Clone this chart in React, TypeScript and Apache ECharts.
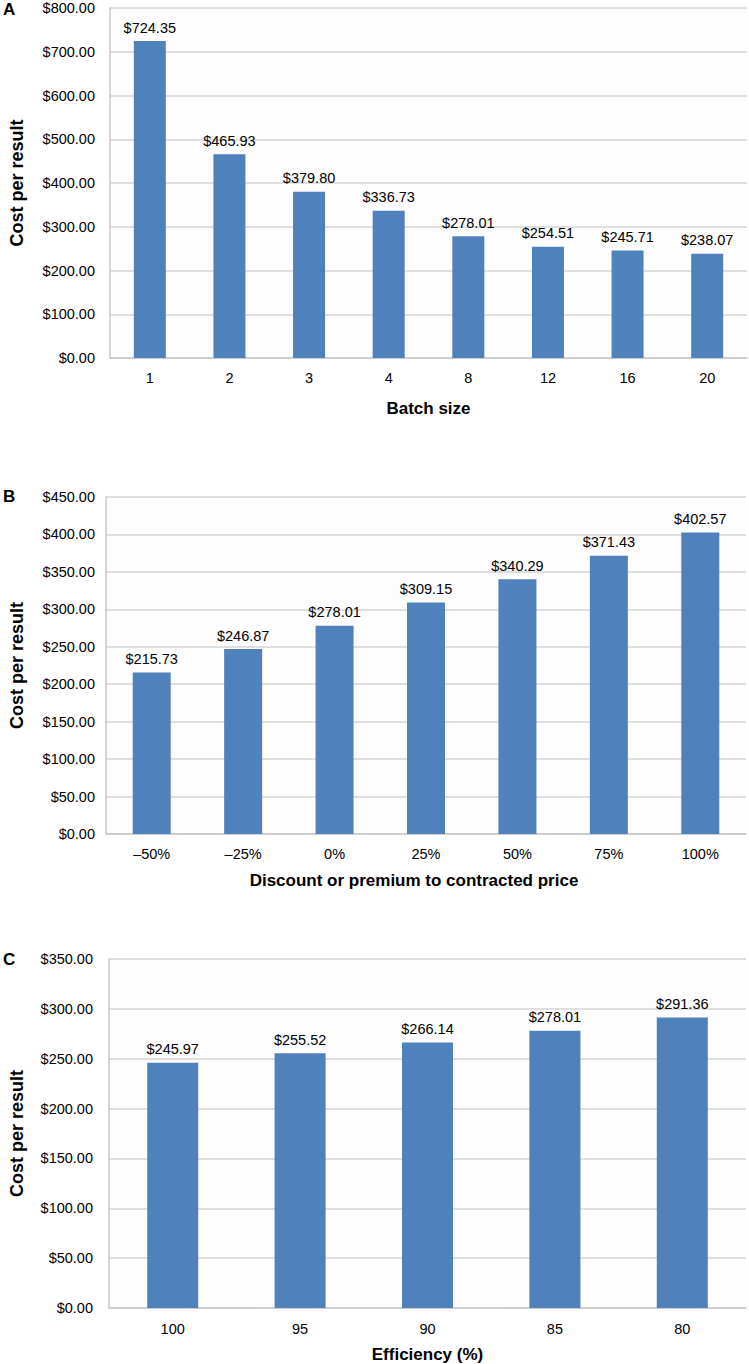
import React, { useEffect, useRef } from "react";
import * as echarts from "echarts";

const batchSizes = ["1", "2", "3", "4", "8", "12", "16", "20"];
const batchCosts = [724.35, 465.93, 379.8, 336.73, 278.01, 254.51, 245.71, 238.07];

const priceChanges = ["\u201350%", "\u201325%", "0%", "25%", "50%", "75%", "100%"];
const priceCosts = [215.73, 246.87, 278.01, 309.15, 340.29, 371.43, 402.57];

const efficiencies = ["100", "95", "90", "85", "80"];
const efficiencyCosts = [245.97, 255.52, 266.14, 278.01, 291.36];

const yTitle = "Cost per result";
const xTitles = ["Batch size", "Discount or premium to contracted price", "Efficiency (%)"];
const panelLetters = ["A", "B", "C"];

const FONT = "'Liberation Sans', Arial, Helvetica, sans-serif";
const BAR = "#4F81BD";

export default function App() {
  const ref = useRef<HTMLDivElement>(null);
  useEffect(() => {
    if (!ref.current) return;
    const chart = echarts.init(ref.current, undefined, { renderer: "svg" });
    const grids = [
      { left: 100, top: 8, width: 647, height: 350 },
      { left: 96, top: 497, width: 650, height: 337 },
      { left: 99, top: 959, width: 647, height: 349 },
    ];
    const letterTops = [1, 488, 951];
    const cats = [batchSizes, priceChanges, efficiencies];
    const vals = [batchCosts, priceCosts, efficiencyCosts];
    const maxes = [800, 450, 350];
    const intervals = [100, 50, 50];
    const barW = [32, 38, 51];
    const yMargins = [15, 11, 16];
    const xNameGaps = [42, 38, 38];
    const xNamePads = [[0, 0, 0, 0], [0, 24, 0, 0], [0, 0, 0, 0]];
    const xLabelMargins = [12, 12, 13];

    const option: any = {
      animation: false,
      backgroundColor: "#ffffff",
      grid: grids.map((g) => ({ ...g, containLabel: false, show: true, backgroundColor: "#FDFDFD", borderWidth: 0 })),
      xAxis: cats.map((c, i) => ({
        type: "category",
        gridIndex: i,
        data: c,
        axisTick: { show: false },
        axisLine: { show: true, lineStyle: { color: "#C8C8C8", width: 1.5 } },
        axisLabel: { color: "#000", fontSize: 14.5, fontFamily: FONT, margin: xLabelMargins[i] },
        name: xTitles[i],
        nameLocation: "middle",
        nameGap: xNameGaps[i],
        nameTextStyle: {
          color: "#000",
          fontSize: 17,
          fontWeight: "bold",
          fontFamily: FONT,
          padding: xNamePads[i],
        },
      })),
      yAxis: vals.map((_, i) => ({
        type: "value",
        gridIndex: i,
        min: 0,
        max: maxes[i],
        interval: intervals[i],
        axisLine: { show: true, lineStyle: { color: "#C8C8C8", width: 1.5 } },
        axisTick: { show: false },
        splitLine: { show: true, lineStyle: { color: "#D4D4D4", width: 1.5 } },
        axisLabel: {
          color: "#000",
          fontSize: 14.5,
          fontFamily: FONT,
          margin: yMargins[i],
          formatter: (v: number) => "$" + v.toFixed(2),
        },
        name: yTitle,
        nameLocation: "middle",
        nameRotate: 90,
        nameGap: grids[i].left - 16,
        nameTextStyle: { color: "#000", fontSize: 18, fontWeight: "bold", fontFamily: FONT },
      })),
      series: vals.map((v, i) => ({
        type: "bar",
        xAxisIndex: i,
        yAxisIndex: i,
        data: v,
        barWidth: barW[i],
        itemStyle: { color: BAR },
        label: {
          show: true,
          position: "top",
          distance: 6,
          color: "#000",
          fontSize: 14.5,
          fontFamily: FONT,
          formatter: (p: any) => "$" + Number(p.value).toFixed(2),
        },
      })),
      graphic: panelLetters.map((l, i) => ({
        type: "text",
        left: 3,
        top: letterTops[i],
        style: { text: l, fontSize: 17, fontWeight: "bold", fontFamily: FONT, fill: "#000" },
      })),
    };
    chart.setOption(option);
    return () => chart.dispose();
  }, []);
  return (
    <div
      ref={ref}
      style={{ position: "absolute", left: 0, top: 0, width: 749, height: 1364 }}
    />
  );
}
